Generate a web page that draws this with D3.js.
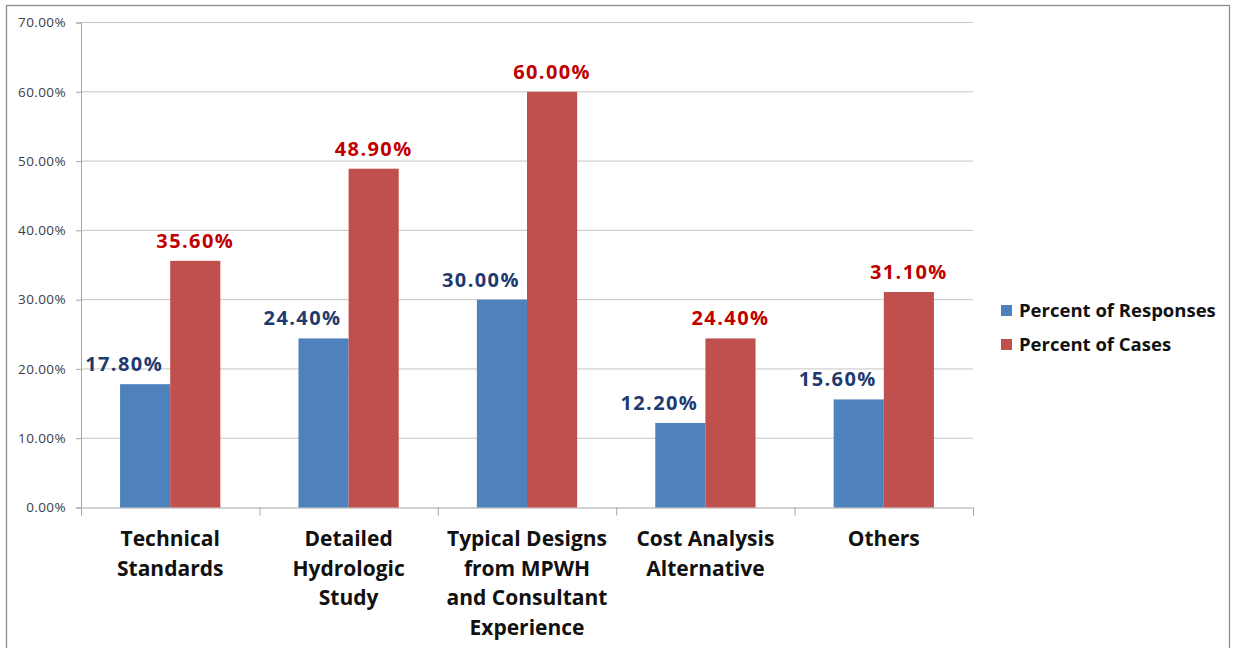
<!DOCTYPE html>
<html><head><meta charset="utf-8">
<script src="https://cdn.jsdelivr.net/npm/d3@7"></script>
<style>body{margin:0;background:#fff;}svg{display:block;}</style>
</head><body>
<script>
const categories = [
  ["Technical","Standards"],
  ["Detailed","Hydrologic","Study"],
  ["Typical Designs","from MPWH","and Consultant","Experience"],
  ["Cost Analysis","Alternative"],
  ["Others"]
];
const seriesNames = ["Percent of Responses","Percent of Cases"];
const responses = [17.8, 24.4, 30.0, 12.2, 15.6];
const cases = [35.6, 48.9, 60.0, 24.4, 31.1];
const yTicks = [0,10,20,30,40,50,60,70];
const barColors = ["#4F81BD","#C0504D"];
const labelColors = ["#1F3A70","#C00000"];

const W=1235,H=648;
const svg=d3.select("body").append("svg").attr("width",W).attr("height",H);
svg.append("rect").attr("x",6.5).attr("y",5.5).attr("width",1223).attr("height",650)
  .attr("fill","#fff").attr("stroke","#8c8c8c").attr("stroke-width",1.3);

const x0=81,x1=973,yTop=22.5,yBot=507.5;
const idx=d3.range(categories.length);
const x=d3.scaleBand().domain(idx).range([x0,x1]).paddingInner(0.438).paddingOuter(0.219);
const xs=d3.scaleBand().domain([0,1]).range([0,x.bandwidth()]);
const y=d3.scaleLinear().domain([0,70]).range([yBot,yTop]);
const fmt=d=>d.toFixed(2)+"%";
const labelShift=[-21,0];

// gridlines
svg.append("g").selectAll("line").data(yTicks.filter(t=>t>0)).join("line")
  .attr("x1",x0).attr("x2",x1).attr("y1",d=>y(d)).attr("y2",d=>y(d))
  .attr("stroke","#c6c6c6").attr("stroke-width",1);

// y axis
const yAxis=d3.axisLeft(y).tickValues(yTicks).tickFormat(fmt).tickSize(5).tickPadding(10);
const gy=svg.append("g").attr("transform",`translate(${x0},0)`).call(yAxis);
gy.select(".domain").attr("stroke","#a6a6a6");
gy.selectAll(".tick line").attr("stroke","#a6a6a6");
gy.selectAll("text").attr("font-family","Open Sans").attr("font-size",13.5)
  .attr("letter-spacing",0.4).attr("fill","#404040");

// x axis
const xAxisScale=d3.scaleLinear().domain([0,categories.length]).range([x0,x1]);
const gx=svg.append("g").attr("transform",`translate(0,${yBot})`)
  .call(d3.axisBottom(xAxisScale).tickValues(d3.range(categories.length+1)).tickSize(8).tickFormat(""));
gx.select(".domain").attr("stroke","#a6a6a6");
gx.selectAll(".tick line").attr("stroke","#a6a6a6");

// bars
const series=[responses,cases];
series.forEach((vals,s)=>{
  svg.append("g").selectAll("rect").data(vals).join("rect")
    .attr("x",(d,i)=>x(i)+xs(s)).attr("width",xs.bandwidth())
    .attr("y",d=>y(d)).attr("height",d=>yBot-y(d)).attr("fill",barColors[s]);
  svg.append("g").selectAll("text").data(vals).join("text")
    .attr("x",(d,i)=>x(i)+xs(s)+xs.bandwidth()/2+labelShift[s]).attr("y",d=>y(d)-13)
    .attr("text-anchor","middle").attr("font-family","Open Sans").attr("font-weight","bold")
    .attr("font-size",20).attr("letter-spacing",1.4).attr("fill",labelColors[s]).text(fmt);
});

// category labels
const cg=svg.append("g").selectAll("text").data(categories).join("text")
  .attr("text-anchor","middle").attr("font-family","Open Sans").attr("font-weight","bold")
  .attr("font-size",21).attr("fill","#111");
cg.each(function(lines,i){
  const t=d3.select(this);
  lines.forEach((l,j)=>t.append("tspan").attr("x",x(i)+x.bandwidth()/2).attr("y",546+j*29.5).text(l));
});

// legend
const lg=svg.append("g");
seriesNames.forEach((n,s)=>{
  lg.append("rect").attr("x",1001).attr("y",305+s*34).attr("width",11).attr("height",11).attr("fill",barColors[s]);
  lg.append("text").attr("x",1019).attr("y",317+s*34).attr("font-family","Open Sans").attr("font-weight","bold")
    .attr("font-size",18.5).attr("fill","#111").text(n);
});
</script>
</body></html>
